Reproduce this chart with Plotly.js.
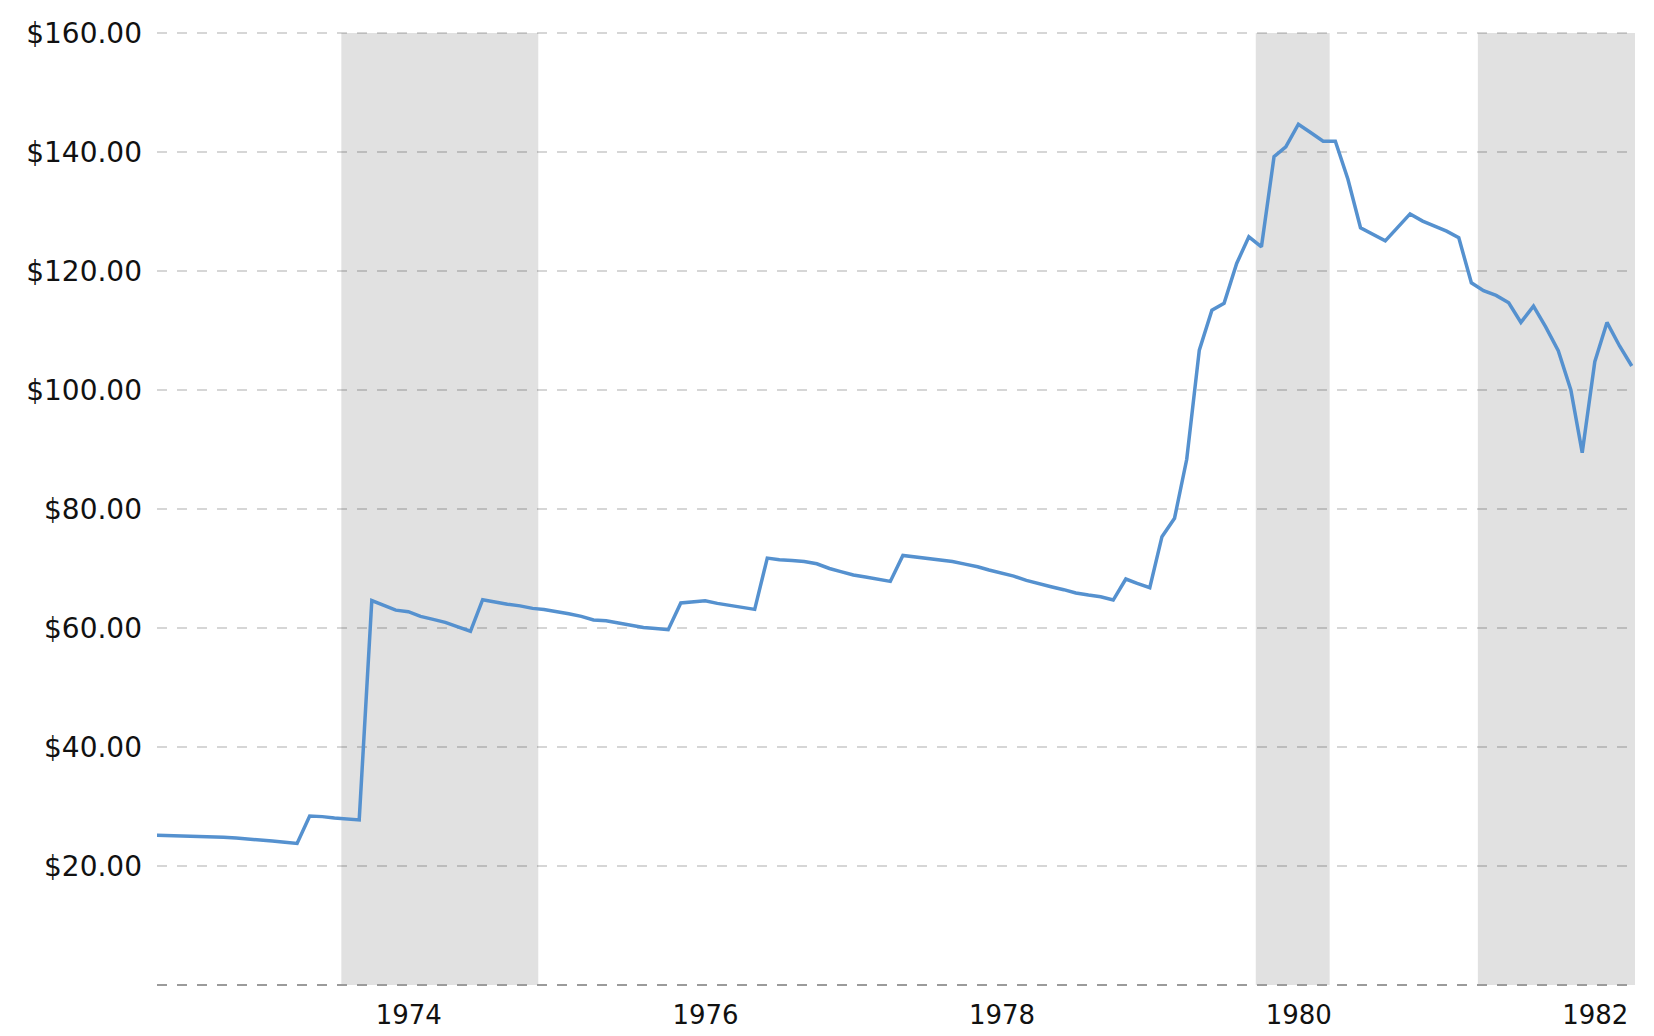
<!DOCTYPE html>
<html>
<head>
<meta charset="utf-8">
<script src="https://cdn.plot.ly/plotly-3.0.1.min.js"></script>
<style>
  html, body { margin: 0; padding: 0; background: #ffffff; }
  #chart { width: 1654px; height: 1036px; }
</style>
</head>
<body>
<div id="chart"></div>
<script>
// Monthly prices (mid-month), Jul 1972 - Jul 1982
const price1972 = [25.2, 25.15, 25.1, 25.0, 24.98, 24.95];            // Jul-Dec
const price1973 = [24.85, 24.7, 24.5, 24.35, 24.2, 24.0, 23.8, 28.4, 28.3, 28.05, 27.9, 27.75];
const price1974 = [64.6, 63.8, 63.0, 62.75, 61.95, 61.45, 60.95, 60.2, 59.45, 64.75, 64.35, 64.0];
const price1975 = [63.72, 63.3, 63.1, 62.8, 62.4, 61.95, 61.34, 61.23, 60.85, 60.5, 60.1, 59.9];
const price1976 = [59.72, 64.2, 64.42, 64.59, 64.14, 63.8, 63.47, 63.13, 71.75, 71.47, 71.36, 71.19];
const price1977 = [70.8, 70.0, 69.48, 68.9, 68.56, 68.17, 67.83, 72.2, 71.98, 71.75, 71.47, 71.19];
const price1978 = [70.74, 70.3, 69.74, 69.29, 68.73, 68.0, 67.44, 66.94, 66.44, 65.88, 65.54, 65.26];
const price1979 = [64.7, 68.23, 67.5, 66.77, 75.35, 78.45, 88.36, 106.7, 113.4, 114.56, 121.27, 125.75];
const price1980 = [124.07, 139.2, 140.86, 144.66, 143.27, 141.81, 141.81, 135.43, 127.26, 126.2, 125.07, 127.3];
const price1981 = [129.6, 128.38, 127.6, 126.7, 125.58, 118.02, 116.68, 115.9, 114.66, 111.36, 114.1, 110.6];
const price1982 = [106.6, 100.0, 89.47, 104.75, 111.36, 107.4, 104.03];   // Jan-Jul

const firstYear = 1972;
const firstMonth = 7;
const yearlyPrices = [price1972, price1973, price1974, price1975, price1976, price1977,
                      price1978, price1979, price1980, price1981, price1982];

// Recession periods
const recessionStart = ['1973-11-01', '1980-01-01', '1981-07-01'];
const recessionEnd   = ['1975-03-01', '1980-07-01', '1982-11-01'];

// Axis ticks
const tickYears = ['1974', '1976', '1978', '1980', '1982'];
const yTicks = [20, 40, 60, 80, 100, 120, 140, 160];
const yTickText = ['$20.00', '$40.00', '$60.00', '$80.00', '$100.00', '$120.00', '$140.00', '$160.00'];

// Build the date/value series
const dates = [];
const prices = [];
yearlyPrices.forEach((arr, i) => {
  const yr = firstYear + i;
  const startM = (i === 0) ? firstMonth : 1;
  arr.forEach((v, j) => {
    const m = startM + j;
    dates.push(yr + '-' + String(m).padStart(2, '0') + '-15');
    prices.push(v);
  });
});

const gridColor = 'rgba(0,0,0,0.16)';

const shapes = recessionStart.map((s, i) => ({
  type: 'rect', xref: 'x', yref: 'y',
  x0: s, x1: recessionEnd[i], y0: 0, y1: 160,
  fillcolor: '#e1e1e1', line: { width: 0 }, layer: 'below'
}));
// top gridline (at the range edge) and dashed baseline
shapes.push({
  type: 'line', xref: 'paper', yref: 'paper',
  x0: 0, x1: 1, y0: 1, y1: 1,
  line: { color: gridColor, width: 2, dash: '10px,10px' }, layer: 'above'
});
shapes.push({
  type: 'line', xref: 'paper', yref: 'paper',
  x0: 0, x1: 1, y0: 0, y1: 0,
  line: { color: '#9b9b9b', width: 2, dash: '10px,10px' }, layer: 'above'
});

const trace = {
  type: 'scatter', mode: 'lines',
  x: dates, y: prices,
  line: { color: '#5591cf', width: 3.5 },
  hoverinfo: 'x+y'
};

const layout = {
  width: 1654, height: 1036,
  margin: { l: 157, r: 19, t: 33, b: 51 },
  paper_bgcolor: '#ffffff', plot_bgcolor: 'rgba(0,0,0,0)',
  showlegend: false,
  font: { family: 'DejaVu Sans, Verdana, sans-serif', color: '#111111' },
  xaxis: {
    type: 'date',
    range: ['1972-08-04', '1982-07-23'],
    tickvals: tickYears.map(y => y + '-04-16'),
    ticktext: tickYears,
    showgrid: false, zeroline: false, showline: false,
    ticks: '', ticklabelstandoff: 12,
    tickfont: { size: 26, family: 'DejaVu Sans, Verdana, sans-serif', color: '#111111' }
  },
  yaxis: {
    range: [0, 160],
    tickvals: yTicks,
    ticktext: yTickText,
    showgrid: true, gridcolor: gridColor, gridwidth: 2, griddash: '10px,10px',
    zeroline: false, showline: false,
    ticks: '', ticklabelstandoff: 14,
    tickfont: { size: 28, family: 'DejaVu Sans, Verdana, sans-serif', color: '#111111' }
  },
  shapes: shapes
};

Plotly.newPlot('chart', [trace], layout, { displayModeBar: false, staticPlot: true });
</script>
</body>
</html>
